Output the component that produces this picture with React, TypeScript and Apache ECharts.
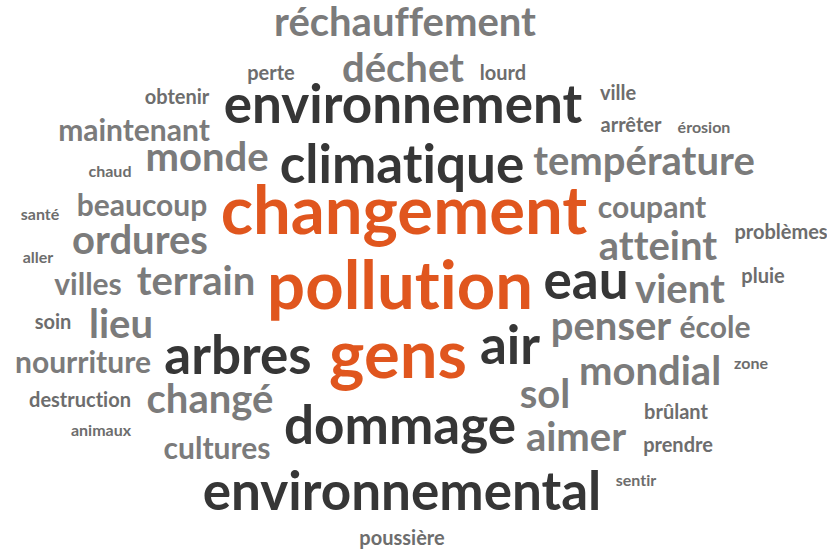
import React, { useEffect, useRef } from "react";
import * as echarts from "echarts";

// Words of the cloud and their weights (rendered font size, px)
const words = [
  "changement", "pollution", "gens",
  "environnement", "climatique", "eau", "air", "arbres", "dommage", "environnemental",
  "réchauffement", "déchet", "température", "monde", "ordures", "atteint", "terrain", "vient",
  "lieu", "penser", "mondial", "sol", "changé", "aimer",
  "maintenant", "beaucoup", "coupant", "villes", "école", "nourriture", "cultures",
  "perte", "lourd", "obtenir", "ville", "arrêter", "problèmes", "pluie", "soin", "destruction",
  "brûlant", "prendre", "poussière",
  "érosion", "chaud", "santé", "aller", "zone", "animaux", "sentir",
];
const weights = [
  67, 67, 67,
  53, 53, 53, 53, 53, 53, 53,
  40, 40, 40, 40, 40, 40, 40, 40,
  40, 40, 40, 40, 40, 40,
  30, 30, 30, 30, 30, 30, 30,
  20, 20, 20, 20, 20, 20, 20, 20, 20,
  20, 20, 20,
  16, 16, 16, 16, 16, 16, 16,
];
// tier of each word: 0 = orange, 1 = dark, 2 = grey, 3 = small grey
const tiers = [
  0, 0, 0,
  1, 1, 1, 1, 1, 1, 1,
  2, 2, 2, 2, 2, 2, 2, 2,
  2, 2, 2, 2, 2, 2,
  2, 2, 2, 2, 2, 2, 2,
  3, 3, 3, 3, 3, 3, 3, 3, 3,
  3, 3, 3,
  3, 3, 3, 3, 3, 3, 3,
];
// layout of the cloud: [centre x, baseline y] in canvas units
const layout: [number, number][] = [
  [404, 232], [400, 307], [398, 376],
  [403, 122], [402, 182], [586, 298], [510, 363], [238, 373], [400, 443], [402, 509],
  [405, 35], [403, 81], [644, 174], [207, 170], [140, 253], [658, 259], [196, 294], [680, 302],
  [121, 337], [611, 339], [650, 384], [545, 407], [210, 412], [576, 450],
  [134, 140], [142, 215], [652, 217], [88, 294], [715, 337], [83, 372], [217, 458],
  [271, 79], [503, 79], [177, 103], [618, 99], [631, 131], [781, 238], [763, 282], [53, 328], [80, 406],
  [676, 418], [678, 451], [402, 544],
  [704, 132], [110, 176], [40, 219], [38, 262], [751, 368], [101, 435], [636, 485],
];
const tierColors = ["#e0561e", "#363636", "#7b7b7b", "#6d6d6d"];

export default function App() {
  const ref = useRef<HTMLDivElement>(null);
  useEffect(() => {
    document.body.style.margin = "0";
    const css = document.createElement("style");
    css.textContent =
      "svg text { text-rendering: optimizeSpeed !important; font-variant-ligatures: none !important; font-feature-settings: 'liga' 0, 'clig' 0, 'dlig' 0, 'calt' 0 !important; }";
    document.head.appendChild(css);
    const chart = echarts.init(ref.current!, null, { renderer: "svg" });
    const data = words.map((w, i) => {
      const size = weights[i];
      return {
        name: w,
        value: [layout[i][0], layout[i][1] - size * 0.36],
        label: {
          fontSize: size,
          lineHeight: Math.round(size * 0.8),
          color: tierColors[tiers[i]],
        },
      };
    });
    chart.setOption({
      animation: false,
      backgroundColor: "#ffffff",
      grid: { left: 0, right: 0, top: 0, bottom: 0 },
      xAxis: { type: "value", min: 0, max: 827, show: false },
      yAxis: { type: "value", min: 0, max: 550, inverse: true, show: false },
      series: [
        {
          type: "scatter",
          symbolSize: 0,
          itemStyle: { opacity: 1 },
          data,
          label: {
            show: true,
            position: "inside",
            formatter: (p: any) => p.name,
            fontFamily: "Lato",
            fontWeight: "bold",
            align: "center",
            verticalAlign: "middle",
            opacity: 1,
          },
          emphasis: { disabled: true },
        },
      ],
    });
    return () => {
      chart.dispose();
      css.remove();
    };
  }, []);
  return <div ref={ref} style={{ width: 827, height: 550 }} />;
}
